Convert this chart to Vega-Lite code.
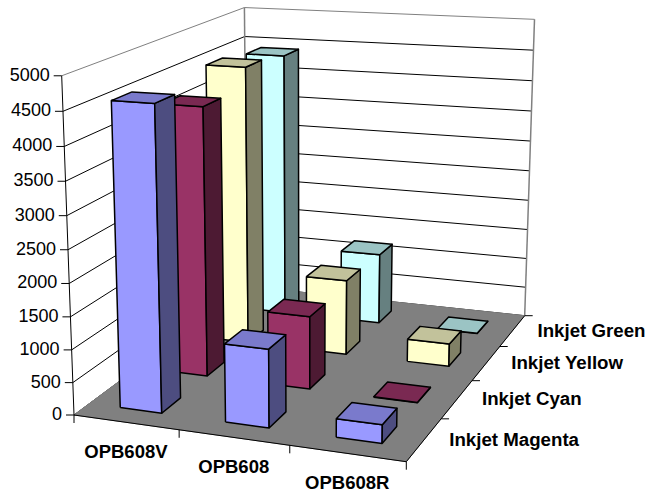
{"$schema":"https://vega.github.io/schema/vega-lite/v6.json","autosize":{"type":"fit","contains":"padding"},"width":646,"height":498,"padding":0,"background":"white","view":{"stroke":null},
"datasets":{
"ticks":[{"value":0},{"value":500},{"value":1000},{"value":1500},{"value":2000},{"value":2500},{"value":3000},{"value":3500},{"value":4000},{"value":4500},{"value":5000}],
"bars":[
{"category":"OPB608V","series":"Inkjet Green","value":4415},{"category":"OPB608","series":"Inkjet Green","value":1180},{"category":"OPB608R","series":"Inkjet Green","value":5},
{"category":"OPB608V","series":"Inkjet Yellow","value":4515},{"category":"OPB608","series":"Inkjet Yellow","value":1215},{"category":"OPB608R","series":"Inkjet Yellow","value":365},
{"category":"OPB608V","series":"Inkjet Cyan","value":4215},{"category":"OPB608","series":"Inkjet Cyan","value":1140},{"category":"OPB608R","series":"Inkjet Cyan","value":5},
{"category":"OPB608V","series":"Inkjet Magenta","value":4585},{"category":"OPB608","series":"Inkjet Magenta","value":1180},{"category":"OPB608R","series":"Inkjet Magenta","value":275}]
},
"encoding":{
"x":{"field":"X","type":"quantitative","scale":{"domain":[0,646],"nice":false,"zero":false},"axis":null},
"y":{"field":"Y","type":"quantitative","scale":{"domain":[498,0],"nice":false,"zero":false},"axis":null}
},
"layer":[
{"data":{"name":"ticks"},"transform":[{"calculate":"[0,1,2]","as":"k"},{"flatten":["k"]},{"calculate":"datum.k==2?1:0","as":"u"},{"calculate":"datum.k==0?0:1","as":"v"},{"calculate":"datum.value/5000","as":"z"},
{"calculate":"(74+302.15*datum.u+229.39*datum.v-15.39*datum.z)/(1-0.0742*datum.u+0.2283*datum.v-0.05*datum.z)","as":"X"},{"calculate":"(415+12.44*datum.u-63.09*datum.v-343*datum.z)/(1-0.0742*datum.u+0.2283*datum.v-0.05*datum.z)","as":"Y"}],
"mark":{"type":"line","strokeWidth":1,"clip":false},
"encoding":{"detail":{"field":"value"},"order":{"field":"k","type":"quantitative"},
"stroke":{"condition":{"test":"datum.value==5000","value":"#808080"},"value":"#000000"},
"strokeWidth":{"condition":{"test":"datum.value==5000","value":1.5},"value":1}}},
{"data":{"values":[{"edge":"back","u":0,"v":1,"z":0},{"edge":"back","u":0,"v":1,"z":1},{"edge":"right","u":1,"v":1,"z":0},{"edge":"right","u":1,"v":1,"z":1}]},
"transform":[{"calculate":"(74+302.15*datum.u+229.39*datum.v-15.39*datum.z)/(1-0.0742*datum.u+0.2283*datum.v-0.05*datum.z)","as":"X"},{"calculate":"(415+12.44*datum.u-63.09*datum.v-343*datum.z)/(1-0.0742*datum.u+0.2283*datum.v-0.05*datum.z)","as":"Y"}],
"mark":{"type":"line","stroke":"#808080","strokeWidth":1.5},
"encoding":{"detail":{"field":"edge"},"order":{"field":"z","type":"quantitative"}}},
{"data":{"values":[{"k":0,"u":0,"v":0},{"k":1,"u":1,"v":0},{"k":2,"u":1,"v":1},{"k":3,"u":0,"v":1},{"k":4,"u":0,"v":0}]},
"transform":[{"calculate":"(74+302.15*datum.u+229.39*datum.v)/(1-0.0742*datum.u+0.2283*datum.v)","as":"X"},{"calculate":"(415+12.44*datum.u-63.09*datum.v)/(1-0.0742*datum.u+0.2283*datum.v)","as":"Y"}],
"mark":{"type":"line","stroke":"#808080","fill":"#808080","strokeWidth":1},
"encoding":{"order":{"field":"k","type":"quantitative"}}},
{"data":{"values":[{"k":0,"u":0,"v":0,"z":1},{"k":1,"u":0,"v":0,"z":0},{"k":2,"u":1,"v":0,"z":0},{"k":3,"u":1,"v":1,"z":0}]},
"transform":[{"calculate":"(74+302.15*datum.u+229.39*datum.v-15.39*datum.z)/(1-0.0742*datum.u+0.2283*datum.v-0.05*datum.z)","as":"X"},{"calculate":"(415+12.44*datum.u-63.09*datum.v-343*datum.z)/(1-0.0742*datum.u+0.2283*datum.v-0.05*datum.z)","as":"Y"}],
"mark":{"type":"line","stroke":"#000000","strokeWidth":1},
"encoding":{"order":{"field":"k","type":"quantitative"}}},
{"data":{"name":"ticks"},"transform":[{"calculate":"datum.value/5000","as":"z"},
{"calculate":"(74-15.39*datum.z)/(1-0.05*datum.z)","as":"X"},{"calculate":"(415-343*datum.z)/(1-0.05*datum.z)","as":"Y"},{"calculate":"datum.X-8","as":"X2"}],
"mark":{"type":"rule","stroke":"#000000","strokeWidth":1},
"encoding":{"x2":{"field":"X2"}}},
{"data":{"values":[{"t":0},{"t":1},{"t":2},{"t":3}]},"transform":[{"calculate":"datum.t/3","as":"u"},
{"calculate":"(74+302.15*datum.u)/(1-0.0742*datum.u)","as":"X"},{"calculate":"(415+12.44*datum.u)/(1-0.0742*datum.u)","as":"Y"},{"calculate":"datum.Y+8","as":"Y2"}],
"mark":{"type":"rule","stroke":"#000000","strokeWidth":1},
"encoding":{"y2":{"field":"Y2"}}},
{"data":{"values":[{"t":1},{"t":2},{"t":3},{"t":4}]},"transform":[{"calculate":"datum.t/4","as":"v"},
{"calculate":"(376.15+229.39*datum.v)/(0.9258+0.2283*datum.v)","as":"X"},{"calculate":"(427.44-63.09*datum.v)/(0.9258+0.2283*datum.v)","as":"Y"},{"calculate":"datum.X+8","as":"X2"}],
"mark":{"type":"rule","stroke":"#000000","strokeWidth":1},
"encoding":{"x2":{"field":"X2"}}},
{"data":{"name":"bars"},"transform":[
{"calculate":"indexof(['OPB608V','OPB608','OPB608R'],datum.category)","as":"i"},
{"calculate":"indexof(['Inkjet Magenta','Inkjet Cyan','Inkjet Yellow','Inkjet Green'],datum.series)","as":"j"},
{"calculate":"datum.value/5000","as":"z1"},
{"calculate":"datum.i/3+0.1","as":"u0"},{"calculate":"datum.i/3+0.2333","as":"u1"},
{"calculate":"datum.j/4+0.075","as":"v0"},{"calculate":"datum.j/4+0.175","as":"v1"},
{"calculate":"['front','side','top']","as":"face"},{"flatten":["face"]},
{"calculate":"[0,1,2,3,4]","as":"k"},{"flatten":["k"]},
{"calculate":"datum.face=='side'?datum.u1:((datum.k==1||datum.k==2)?datum.u1:datum.u0)","as":"u"},
{"calculate":"datum.face=='front'?datum.v0:(datum.face=='side'?((datum.k==1||datum.k==2)?datum.v1:datum.v0):((datum.k==2||datum.k==3)?datum.v1:datum.v0))","as":"v"},
{"calculate":"datum.face=='top'?datum.z1:((datum.k==2||datum.k==3)?datum.z1:0)","as":"z"},
{"calculate":"datum.series+'|'+datum.face","as":"sf"},
{"calculate":"datum.category+'|'+datum.series+'|'+datum.face","as":"key"},
{"calculate":"(74+302.15*datum.u+229.39*datum.v-15.39*datum.z)/(1-0.0742*datum.u+0.2283*datum.v-0.05*datum.z)","as":"X"},{"calculate":"(415+12.44*datum.u-63.09*datum.v-343*datum.z)/(1-0.0742*datum.u+0.2283*datum.v-0.05*datum.z)","as":"Y"}],
"mark":{"type":"line","stroke":"#000000","strokeWidth":1.5,"strokeJoin":"round"},
"encoding":{"detail":{"field":"key"},"order":{"field":"k","type":"quantitative"},
"fill":{"field":"sf","type":"nominal","legend":null,"scale":{"domain":["Inkjet Magenta|front","Inkjet Magenta|side","Inkjet Magenta|top","Inkjet Cyan|front","Inkjet Cyan|side","Inkjet Cyan|top","Inkjet Yellow|front","Inkjet Yellow|side","Inkjet Yellow|top","Inkjet Green|front","Inkjet Green|side","Inkjet Green|top"],"range":["#9999FF","#4D4D80","#7A7ACC","#993366","#4D1A33","#7A2952","#FFFFCC","#808066","#C2C29B","#CCFFFF","#668080","#9BC4C4"]}}}},
{"data":{"name":"ticks"},"transform":[{"calculate":"datum.value/5000","as":"z"},
{"calculate":"(74-15.39*datum.z)/(1-0.05*datum.z)","as":"X"},{"calculate":"(415-343*datum.z)/(1-0.05*datum.z)","as":"Y"}],
"mark":{"type":"text","align":"right","baseline":"middle","dx":-12,"font":"Liberation Sans","fontSize":18,"fill":"#000000"},
"encoding":{"text":{"field":"value","type":"quantitative","format":"d"}}},
{"data":{"values":[{"label":"OPB608V"},{"label":"OPB608"},{"label":"OPB608R"}]},"transform":[{"calculate":"indexof(['OPB608V','OPB608','OPB608R'],datum.label)","as":"i"},{"calculate":"(datum.i+0.5)/3","as":"u"},
{"calculate":"(74+302.15*datum.u)/(1-0.0742*datum.u)","as":"X"},{"calculate":"(415+12.44*datum.u)/(1-0.0742*datum.u)","as":"Y"}],
"mark":{"type":"text","align":"center","baseline":"middle","dy":30,"font":"Liberation Sans","fontWeight":"bold","fontSize":18.5,"fill":"#000000"},
"encoding":{"text":{"field":"label"}}},
{"data":{"values":[{"label":"Inkjet Magenta"},{"label":"Inkjet Cyan"},{"label":"Inkjet Yellow"},{"label":"Inkjet Green"}]},"transform":[{"calculate":"indexof(['Inkjet Magenta','Inkjet Cyan','Inkjet Yellow','Inkjet Green'],datum.label)","as":"j"},{"calculate":"(datum.j+0.5)/4","as":"v"},
{"calculate":"(376.15+229.39*datum.v)/(0.9258+0.2283*datum.v)","as":"X"},{"calculate":"(427.44-63.09*datum.v)/(0.9258+0.2283*datum.v)","as":"Y"}],
"mark":{"type":"text","align":"left","baseline":"middle","dx":25,"font":"Liberation Sans","fontWeight":"bold","fontSize":18.7,"fill":"#000000"},
"encoding":{"text":{"field":"label"}}}
]}
